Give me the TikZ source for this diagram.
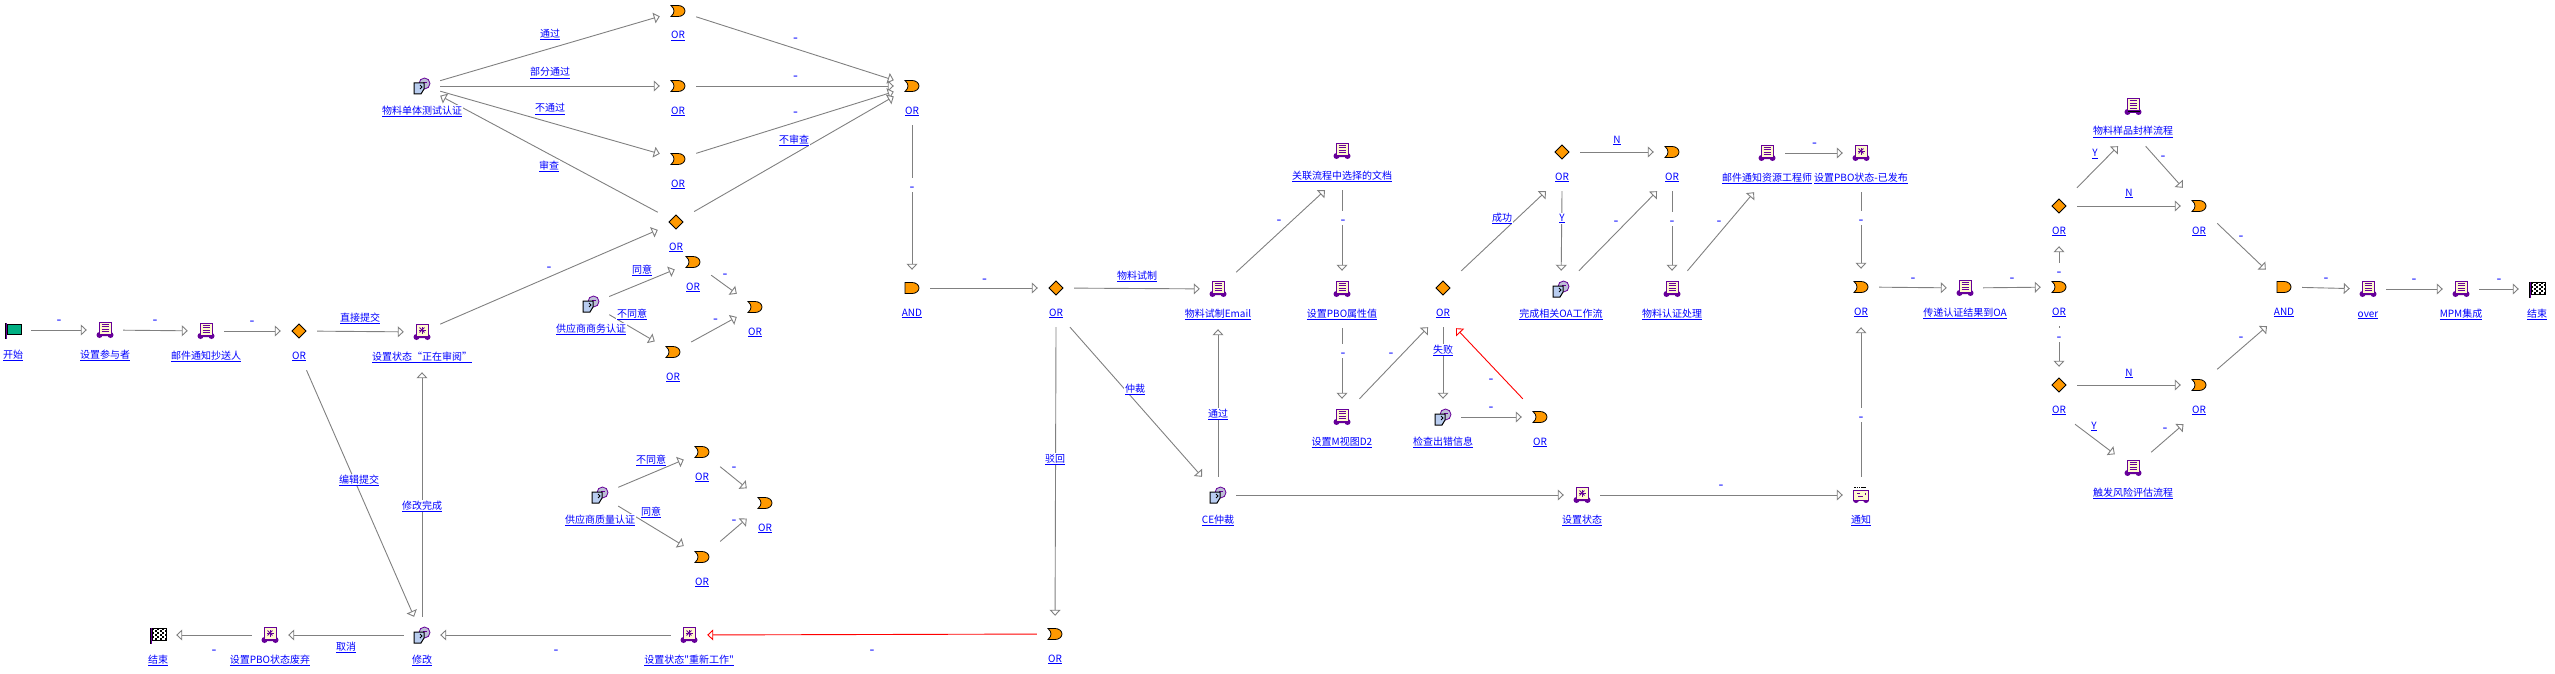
\documentclass[tikz,border=0pt]{standalone}
\usepackage{fontspec}
\usetikzlibrary{arrows.meta,backgrounds}
\newfontfamily\cjk{Noto Sans CJK SC}
\definecolor{flowpurple}{RGB}{102,0,153}
\definecolor{flowcream}{RGB}{255,250,205}
\definecolor{floworange}{RGB}{255,153,0}
\definecolor{flowgreen}{RGB}{0,175,130}
\definecolor{flowpage}{RGB}{185,205,240}
\definecolor{flowhead}{RGB}{190,190,215}
\newcommand{\ulbl}[1]{\vtop{\hbox{#1}\kern0.8pt\hrule height 0.8pt}}
\tikzset{
    spot/.style={rectangle, minimum width=36pt, minimum height=36pt, inner sep=0pt},
    lbl/.style={anchor=base, text=blue, fill=white, inner sep=1pt, font=\cjk\fontsize{10}{12}\selectfont},
    edgelbl/.style={lbl, yshift=-4pt},
    dashlbl/.style={lbl, yshift=-3.9pt, text height=14pt, text depth=0pt, inner sep=0pt, font=\cjk\fontsize{14}{14}\selectfont},
    link/.style={draw=gray, line width=0.9pt, -{Triangle[length=6pt, width=11pt, fill=white]}},
    redlink/.style={link, draw=red},
    pagebase/.pic={
        \fill[flowpurple] (-5.5,5) circle (3pt) (5.5,5) circle (3pt) (-7,3) rectangle (7,6);
        \fill[black] (-5,-7) rectangle (7,5);
        \draw[flowpurple, fill=flowcream, line width=1pt] (-6,-8) rectangle (6,4);
    },
    docicon/.pic={
        \pic {pagebase};
        \foreach \y in {-6,-3.5,-1,1.5} {
            \draw[flowpurple, line width=1pt] (-3.5,\y) -- (3.5,\y);
        }
    },
    staricon/.pic={
        \pic {pagebase};
        \foreach \a in {0,45,90,135} {
            \draw[flowpurple, line width=1pt] ([shift={(0,-2)}]\a:3.5) -- ([shift={(0,-2)}]\a+180:3.5);
        }
    },
    mailicon/.pic={
        \fill[flowpurple] (-5,5) circle (3pt) (5,5) circle (3pt);
        \draw[flowpurple, fill=flowcream, line width=1pt] (-7.5,-5) rectangle (7.5,5);
        \draw[flowpurple, line width=0.8pt] (-4,-2) -- (-1,-2) (-3,1) -- (2,1) (4,0) -- (4,-2);
        \draw[black, line width=0.8pt, dash pattern=on 1.5pt off 1pt] (-7,-8) -- (-1,-8);
        \draw[black, line width=0.8pt] (0,-8) -- (5,-8);
    },
    personicon/.pic={
        \draw[flowpurple, fill=flowhead, line width=0.8pt] (2.5,-2.5) circle (5.5pt);
        \draw[flowpurple, line width=0.8pt] (1,-3.5) -- (5,-3.5);
        \draw[black, fill=flowpage, line width=1pt] (-8,-3) -- (2,-3) -- (2,3) -- (-1,8) -- (-8,8) -- cycle;
        \draw[black, line width=0.8pt] (-2,-1) -- (0,1) -- (-2,3);
    },
    diamondicon/.pic={
        \draw[black, fill=floworange, line width=0.8pt] (-7,0) -- (0,-7) -- (7,0) -- (0,7) -- cycle;
    },
    oricon/.pic={
        \draw[black, fill=floworange, line width=0.8pt] (-7,-5.5) -- (0,-5.5) .. controls (4,-5.5) and (7,-3) .. (7,0) .. controls (7,3) and (4,5.5) .. (0,5.5) -- (-7,5.5) .. controls (-3,2) and (-3,-2) .. (-7,-5.5) -- cycle;
    },
    andicon/.pic={
        \draw[black, fill=floworange, line width=0.8pt] (-7,-5.5) -- (0,-5.5) .. controls (4,-5.5) and (7,-3) .. (7,0) .. controls (7,3) and (4,5.5) .. (0,5.5) -- (-7,5.5) -- cycle;
    },
    starticon/.pic={
        \draw[black, fill=flowgreen, line width=0.8pt] (-6,-6) rectangle (8,4);
        \draw[flowpurple, line width=1pt] (-7,-7) -- (-7,9);
        \draw[black, line width=0.6pt] (-8,-7) -- (-8,9);
    },
    endicon/.pic={
        \draw[black, fill=white, line width=0.8pt] (-6,-7) rectangle (8,5);
        \foreach \i in {0,1,2} {
            \foreach \j in {0,1,2} {
                \fill[black] (-6+\i*5,-7+\j*4) rectangle +(2.4,2);
                \fill[black] (-3.5+\i*5,-5+\j*4) rectangle +(2.4,2);
            }
        }
        \draw[flowpurple, line width=1pt] (-7,-7) -- (-7,9);
        \draw[black, line width=0.6pt] (-8,-7) -- (-8,9);
    }
}
\newcommand{\flownode}[5]{
    \node[spot] (#2) at (#3,#4) {};
    \pic at (#3,#4) {#1};
    \node[lbl] (#2text) at ([yshift=-28pt]#2.center) {\ulbl{#5}};
}
\begin{document}
\begin{tikzpicture}[x=1pt, y=-1pt]
    \useasboundingbox (0,0) rectangle (2555,674);

    % tasks
    \foreach \n/\x/\y/\t in {setuser/105/330/设置参与者, mailcc/206/331/邮件通知抄送人, trialmail/1218/289/物料试制Email,
        linkdoc/1342/151/关联流程中选择的文档, setattr/1342/289/设置PBO属性值, setview/1342/417/设置M视图D2,
        certdone/1672/289/物料认证处理, mailres/1767/153/邮件通知资源工程师, passoa/1965/288/传递认证结果到OA,
        sample/2133/107/物料样品封样流程, risk/2133/468/触发风险评估流程, over/2368/289/over, mpm/2461/289/MPM集成} {
        \flownode{docicon}{\n}{\x}{\y}{\t}
    }
    \foreach \n/\x/\y/\t in {setreview/422/332/设置状态“正在审阅”, setdrop/270/635/设置PBO状态废弃, setrework/689/635/设置状态"重新工作",
        setstate/1582/495/设置状态, setdone/1861/153/设置PBO状态-已发布} {
        \flownode{staricon}{\n}{\x}{\y}{\t}
    }
    \foreach \n/\x/\y/\t in {unittest/422/86/物料单体测试认证, bizcert/591/304/供应商商务认证, qualcert/600/495/供应商质量认证,
        modify/422/635/修改, cejudge/1218/495/CE仲裁, checkerr/1443/417/检查出错信息, oaflow/1561/289/完成相关OA工作流} {
        \flownode{personicon}{\n}{\x}{\y}{\t}
    }
    \flownode{mailicon}{notify}{1861}{495}{通知}

    % splits and joins
    \foreach \n/\x/\y in {splita/299/331, splitb/676/222, splitc/1056/288, splitd/1443/288, splite/1562/152, splitf/2059/206, splitg/2059/385} {
        \flownode{diamondicon}{\n}{\x}{\y}{OR}
    }
    \foreach \n/\x/\y in {joina/678/11, joinb/678/86, joinc/678/159, joind/912/86, joine/693/262, joinf/673/352, joing/755/307,
        joinh/702/452, joini/702/557, joinj/765/503, joink/1055/634, joinl/1540/417, joinm/1672/152, joinn/1861/287,
        joino/2059/287, joinp/2199/206, joinq/2199/385} {
        \flownode{oricon}{\n}{\x}{\y}{OR}
    }
    \flownode{andicon}{anda}{912}{288}{AND}
    \flownode{andicon}{andb}{2284}{287}{AND}
    \flownode{starticon}{start}{13}{330}{开始}
    \flownode{endicon}{enda}{158}{635}{结束}
    \flownode{endicon}{endb}{2537}{289}{结束}

    % connectors
    \begin{scope}[on background layer]
        \foreach \a/\b in {start/setuser, setuser/mailcc, mailcc/splita, splita/setreview, setreview/splitb, unittest/joina, unittest/joinb,
            unittest/joinc, splitb/unittest, joina/joind, joinb/joind, joinc/joind, splitb/joind, bizcert/joine, bizcert/joinf, joine/joing, joinf/joing,
            qualcert/joinh, qualcert/joini, joinh/joinj, joini/joinj, anda/splitc, splitc/trialmail, modify/setdrop, setdrop/enda,
            setrework/modify, cejudge/setstate, setstate/notify, checkerr/joinl, splite/joinm, mailres/setdone, joinn/passoa, passoa/joino,
            splitf/joinp, splitg/joinq, joinp/andb, andb/over, over/mpm, mpm/endb} {
            \draw[link] (\a) -- (\b);
        }
        % ends under a label
        \foreach \a/\b in {joind/anda, splitc/joink, linkdoc/setattr, setattr/setview, splitd/checkerr, splite/oaflow, joinm/certdone, setdone/joinn, joino/splitg} {
            \draw[link] ([yshift=-21pt]\a.south) -- (\b);
        }
        \foreach \a/\b in {modify/setreview, cejudge/trialmail, notify/joinn, joino/splitf} {
            \draw[link] (\a) -- ([yshift=-22pt]\b.south);
        }
        \foreach \a/\b/\s in {trialmail/linkdoc/-17, setview/splitd/-15, splitd/splite/-16, oaflow/joinm/-15, certdone/mailres/-13,
            splitf/sample/-15, risk/joinq/-15.5, joinq/andb/-17} {
            \draw[link] (\a) -- ([yshift=-21pt, xshift=\s pt]\b.south);
        }
        \foreach \a/\b/\s in {splita/modify/7.5, splitc/cejudge/14, sample/joinp/12.6, splitg/risk/16} {
            \draw[link] ([yshift=-21pt, xshift=\s pt]\a.south) -- (\b);
        }
        \draw[redlink] (joink) -- (setrework);
        \draw[redlink] (joinl) -- ([yshift=-22pt, xshift=13pt]splitd.south);
    \end{scope}

    % connector labels
    \foreach \x/\y/\t [count=\i] in {360/317/直接提交, 550/34/通过, 550/72/部分通过, 550/108/不通过, 549/165/审查, 794/139/不审查,
        642/269/同意, 632/313/不同意, 651/459/不同意, 651/511/同意, 359/479/编辑提交, 422/505/修改完成, 346/646/取消,
        1137/275/物料试制, 1055/458/驳回, 1135/388/仲裁, 1218/413/通过, 1502/217/成功, 1562/217/Y, 1617/139/N, 1443/349/失败,
        2095/153/Y, 2129/192/N, 2129/372/N, 2094/425/Y} {
        \node[edgelbl] (edge\i) at (\x,\y) {\ulbl{\t}};
    }
    \foreach \x/\y [count=\i] in {59/321, 155/321, 252/322, 549/268, 214/651, 556/651, 795.5/39, 795.5/77, 795.5/113, 725/275, 715.5/320,
        734/468, 734/521, 912/188, 984.5/280, 872/651, 1279/221, 1343/221, 1343/354, 1391/354, 1616/222, 1672/222, 1719/222,
        1814.5/144, 1861/221, 1491/380, 1491/408, 1861/418, 1721/486, 1913/279, 2012/279, 2059/273, 2059/338, 2163/157,
        2241/237, 2241/338, 2165/429, 2326/279, 2414/280, 2499/280} {
        \node[dashlbl] (dash\i) at (\x,\y) {-};
    }
\end{tikzpicture}
\end{document}
